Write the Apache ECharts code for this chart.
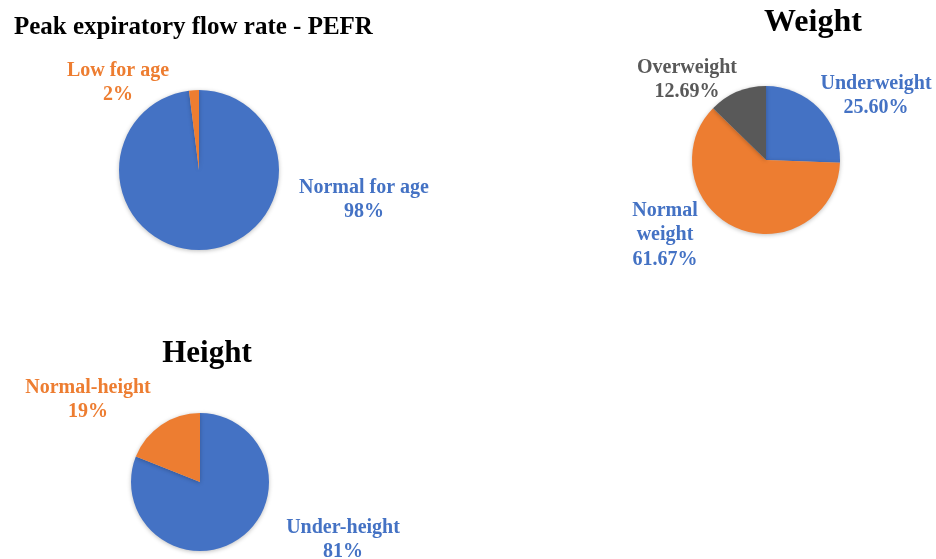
<!DOCTYPE html>
<html>
<head>
<meta charset="utf-8">
<script src="https://cdn.jsdelivr.net/npm/echarts@6/dist/echarts.min.js"></script>
<style>
  html, body { margin: 0; padding: 0; background: #fff; }
  #main { width: 936px; height: 559px; }
</style>
</head>
<body>
<div id="main"></div>
<script>
// data
var pefrNames = ['Normal for age', 'Low for age']
var pefrValues = [98, 2]
var pefrText = ['98%', '2%']

var weightNames = ['Underweight', 'Normal\nweight', 'Overweight']
var weightValues = [25.60, 61.67, 12.69]

var heightNames = ['Under-height', 'Normal-height']
var heightValues = [81, 19]
var heightText = ['81%', '19%']

var BLUE = '#4472C4'
var ORANGE = '#ED7D31'
var GRAY = '#595959'
var SERIF = '"Liberation Serif", "Times New Roman", serif'

// label spots (Excel "best fit" placement)
var labelSpots = [
  [[364, 200], [118, 83]],
  [[876, 96], [665, 235], [687, 80]],
  [[343, 540], [88, 400]]
]

function mkData(names, values, colors, labelColors, texts) {
  return names.map(function(n, i) {
    return {
      name: n,
      value: values[i],
      itemStyle: { color: colors[i] },
      label: {
        color: labelColors[i],
        formatter: texts ? n + '\n' + texts[i] : n + '\n' + values[i].toFixed(2) + '%'
      }
    }
  })
}

function pieSeries(idx, center, radius, data) {
  return {
    type: 'pie',
    center: center,
    radius: radius,
    startAngle: 90,
    clockwise: true,
    silent: true,
    animation: false,
    itemStyle: {
      borderWidth: 0,
      shadowBlur: 4,
      shadowColor: 'rgba(0,0,0,0.25)',
      shadowOffsetY: 1
    },
    label: {
      show: true,
      position: 'outside',
      overflow: 'none',
      fontFamily: SERIF,
      fontWeight: 'bold',
      fontSize: 20,
      lineHeight: 24.5,
      align: 'center'
    },
    labelLine: { show: false },
    labelLayout: function(p) {
      var s = labelSpots[idx][p.dataIndex]
      return { x: s[0], y: s[1], align: 'center', verticalAlign: 'middle' }
    },
    data: data
  }
}

var chart = echarts.init(document.getElementById('main'))
chart.setOption({
  backgroundColor: '#fff',
  title: [
    {
      text: 'Peak expiratory flow rate - PEFR',
      left: 9, top: 10,
      textStyle: { fontFamily: SERIF, fontWeight: 'bold', fontSize: 25, color: '#000' }
    },
    {
      text: 'Weight',
      left: 808, top: 2, textAlign: 'center',
      textStyle: { fontFamily: SERIF, fontWeight: 'bold', fontSize: 32, color: '#000' }
    },
    {
      text: 'Height',
      left: 202, top: 333, textAlign: 'center',
      textStyle: { fontFamily: SERIF, fontWeight: 'bold', fontSize: 31, color: '#000' }
    }
  ],
  series: [
    pieSeries(0, [199, 170], 80,
      mkData(pefrNames, pefrValues, [BLUE, ORANGE], [BLUE, ORANGE], pefrText)),
    pieSeries(1, [766, 160], 74,
      mkData(weightNames, weightValues, [BLUE, ORANGE, GRAY], [BLUE, BLUE, GRAY])),
    pieSeries(2, [200, 482], 69,
      mkData(heightNames, heightValues, [BLUE, ORANGE], [BLUE, ORANGE], heightText))
  ]
})
</script>
</body>
</html>
